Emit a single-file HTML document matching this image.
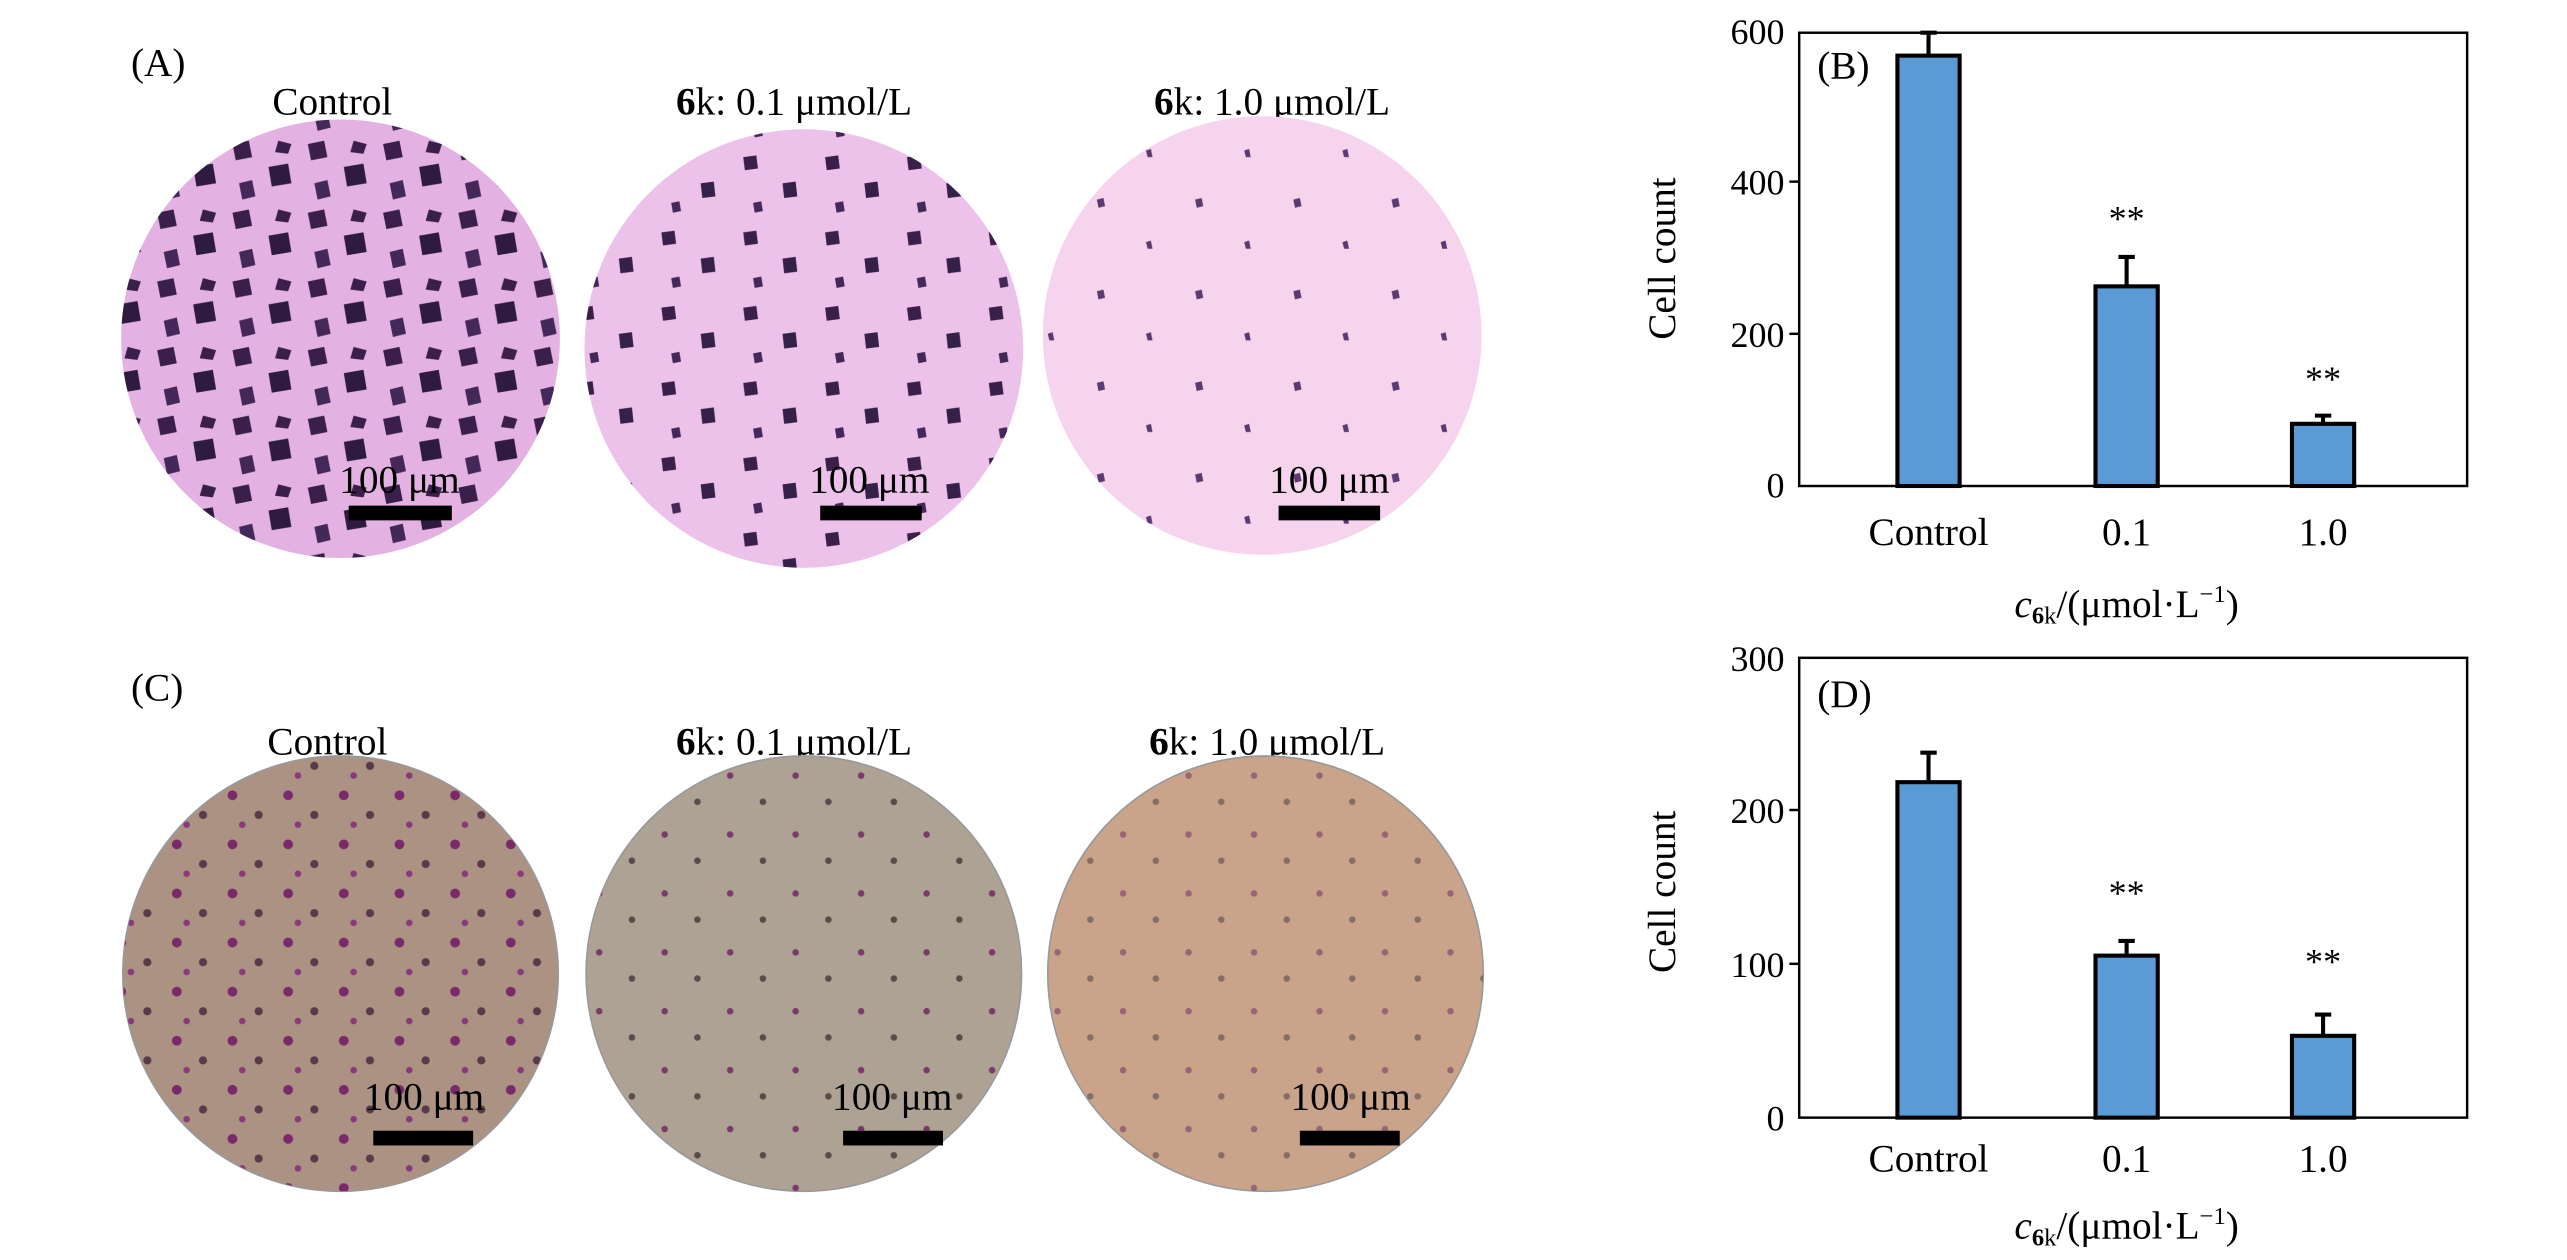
<!DOCTYPE html>
<html><head><meta charset="utf-8"><style>
html,body{margin:0;padding:0;background:#fff;}
svg{display:block;}
text{font-family:"Liberation Serif",serif;fill:#000;}
</style></head><body>
<svg width="2567" height="1260" viewBox="0 0 1568 770" preserveAspectRatio="none" xmlns="http://www.w3.org/2000/svg">
<defs>
<pattern id="pa" width="46" height="42" patternUnits="userSpaceOnUse">
<polygon points="4,4 14,2 16,12 6,14" fill="#3a1f4a"/>
<polygon points="26,18 38,16 40,28 28,30" fill="#2f1a40"/>
<polygon points="8,28 16,26 18,36 10,38" fill="#45285a"/>
<polygon points="32,2 40,4 38,10 30,9" fill="#3a1f4a"/>
</pattern>
<pattern id="pb" width="50" height="46" patternUnits="userSpaceOnUse">
<polygon points="4,4 12,3 13,11 5,12" fill="#3a1f4a"/>
<polygon points="28,20 36,19 37,28 29,29" fill="#35204a"/>
<polygon points="10,32 15,31 16,37 11,38" fill="#45285a"/>
</pattern>
<pattern id="pc" width="60" height="56" patternUnits="userSpaceOnUse">
<polygon points="10,10 14,9 15,14 11,15" fill="#5a3a70"/>
<polygon points="40,36 43,35 44,40 41,40" fill="#5a3a70"/>
</pattern>
<pattern id="pd" width="34" height="30" patternUnits="userSpaceOnUse">
<circle cx="6" cy="6" r="3" fill="#7a2a6a"/>
<circle cx="22" cy="18" r="2.5" fill="#5a3a4a"/>
<circle cx="12" cy="24" r="2" fill="#8a3a7a"/>
</pattern>
<pattern id="pe" width="40" height="36" patternUnits="userSpaceOnUse">
<circle cx="6" cy="6" r="2" fill="#7a3a6a"/>
<circle cx="26" cy="22" r="2" fill="#5a4a4a"/>
</pattern>
</defs>

<!-- A -->
<text x="80" y="46" font-size="24">(A)</text>
<text x="203" y="70" font-size="24" text-anchor="middle">Control</text>
<text x="485" y="70" font-size="24" text-anchor="middle"><tspan font-weight="bold">6</tspan>k: 0.1 μmol/L</text>
<text x="777" y="70" font-size="24" text-anchor="middle"><tspan font-weight="bold">6</tspan>k: 1.0 μmol/L</text>
<ellipse cx="208" cy="207" rx="134" ry="134" fill="#e4b2e2"/>
<ellipse cx="208" cy="207" rx="134" ry="134" fill="url(#pa)"/>
<ellipse cx="491" cy="213" rx="134" ry="134" fill="#ecc2ea"/>
<ellipse cx="491" cy="213" rx="134" ry="134" fill="url(#pb)"/>
<ellipse cx="771" cy="205" rx="134" ry="134" fill="#f6d4ee"/>
<ellipse cx="771" cy="205" rx="134" ry="134" fill="url(#pc)"/>
<g font-size="24" text-anchor="middle">
<text x="244" y="301">100 μm</text><text x="531" y="301">100 μm</text><text x="812" y="301">100 μm</text>
</g>
<rect x="213" y="309" width="63" height="9" fill="#000"/>
<rect x="501" y="309" width="62" height="9" fill="#000"/>
<rect x="781" y="309" width="62" height="9" fill="#000"/>

<!-- C -->
<text x="80" y="428" font-size="24">(C)</text>
<text x="200" y="461" font-size="24" text-anchor="middle">Control</text>
<text x="485" y="461" font-size="24" text-anchor="middle"><tspan font-weight="bold">6</tspan>k: 0.1 μmol/L</text>
<text x="774" y="461" font-size="24" text-anchor="middle"><tspan font-weight="bold">6</tspan>k: 1.0 μmol/L</text>
<ellipse cx="208" cy="595" rx="133" ry="133" fill="#ac9282" stroke="#999" stroke-width="1"/>
<ellipse cx="208" cy="595" rx="133" ry="133" fill="url(#pd)"/>
<ellipse cx="491" cy="595" rx="133" ry="133" fill="#aea294" stroke="#999" stroke-width="1"/>
<ellipse cx="491" cy="595" rx="133" ry="133" fill="url(#pe)"/>
<ellipse cx="773" cy="595" rx="133" ry="133" fill="#caa48a" stroke="#999" stroke-width="1"/>
<ellipse cx="773" cy="595" rx="133" ry="133" fill="url(#pe)" opacity="0.6"/>
<g font-size="24" text-anchor="middle">
<text x="259" y="678">100 μm</text><text x="545" y="678">100 μm</text><text x="825" y="678">100 μm</text>
</g>
<rect x="228" y="691" width="61" height="9" fill="#000"/>
<rect x="515" y="691" width="61" height="9" fill="#000"/>
<rect x="794" y="691" width="61" height="9" fill="#000"/>

<!-- B -->
<g>
<rect x="1099" y="20" width="408" height="277" fill="none" stroke="#000" stroke-width="1.5"/>
<g stroke="#000" stroke-width="1.5"><line x1="1093" y1="111" x2="1099" y2="111"/><line x1="1093" y1="204" x2="1099" y2="204"/></g>
<g font-size="22" text-anchor="end">
<text x="1090" y="27">600</text><text x="1090" y="119">400</text><text x="1090" y="212">200</text><text x="1090" y="304">0</text>
</g>
<text transform="translate(1023,158) rotate(-90)" font-size="24" text-anchor="middle">Cell count</text>
<text x="1110" y="48" font-size="24">(B)</text>
<g stroke="#000" stroke-width="2.5" fill="#5b9bd5">
<line x1="1178" y1="34" x2="1178" y2="20"/><line x1="1173" y1="20" x2="1183" y2="20"/>
<rect x="1159" y="34" width="38" height="263"/>
<line x1="1299" y1="175" x2="1299" y2="157"/><line x1="1294" y1="157" x2="1304" y2="157"/>
<rect x="1280" y="175" width="38" height="122"/>
<line x1="1419" y1="259" x2="1419" y2="254"/><line x1="1414" y1="254" x2="1424" y2="254"/>
<rect x="1400" y="259" width="38" height="38"/>
</g>
<g font-size="22" text-anchor="middle">
<text x="1299" y="141">**</text><text x="1419" y="239">**</text>
<text x="1178" y="333" font-size="24">Control</text><text x="1299" y="333" font-size="24">0.1</text><text x="1419" y="333" font-size="24">1.0</text>
</g>
<text x="1299" y="377" font-size="24" text-anchor="middle"><tspan font-style="italic">c</tspan><tspan font-size="15" font-weight="bold" dy="4">6</tspan><tspan font-size="15" dy="0">k</tspan><tspan dy="-4">/(μmol·L</tspan><tspan font-size="15" dy="-9">−1</tspan><tspan dy="9">)</tspan></text>
</g>

<!-- D -->
<g>
<rect x="1099" y="402" width="408" height="281" fill="none" stroke="#000" stroke-width="1.5"/>
<g stroke="#000" stroke-width="1.5"><line x1="1093" y1="495" x2="1099" y2="495"/><line x1="1093" y1="589" x2="1099" y2="589"/></g>
<g font-size="22" text-anchor="end">
<text x="1090" y="410">300</text><text x="1090" y="503">200</text><text x="1090" y="597">100</text><text x="1090" y="691">0</text>
</g>
<text transform="translate(1023,545) rotate(-90)" font-size="24" text-anchor="middle">Cell count</text>
<text x="1110" y="432" font-size="24">(D)</text>
<g stroke="#000" stroke-width="2.5" fill="#5b9bd5">
<line x1="1178" y1="478" x2="1178" y2="460"/><line x1="1173" y1="460" x2="1183" y2="460"/>
<rect x="1159" y="478" width="38" height="205"/>
<line x1="1299" y1="584" x2="1299" y2="575"/><line x1="1294" y1="575" x2="1304" y2="575"/>
<rect x="1280" y="584" width="38" height="99"/>
<line x1="1419" y1="633" x2="1419" y2="620"/><line x1="1414" y1="620" x2="1424" y2="620"/>
<rect x="1400" y="633" width="38" height="50"/>
</g>
<g font-size="22" text-anchor="middle">
<text x="1299" y="553">**</text><text x="1419" y="595">**</text>
<text x="1178" y="716" font-size="24">Control</text><text x="1299" y="716" font-size="24">0.1</text><text x="1419" y="716" font-size="24">1.0</text>
</g>
<text x="1299" y="757" font-size="24" text-anchor="middle"><tspan font-style="italic">c</tspan><tspan font-size="15" font-weight="bold" dy="4">6</tspan><tspan font-size="15" dy="0">k</tspan><tspan dy="-4">/(μmol·L</tspan><tspan font-size="15" dy="-9">−1</tspan><tspan dy="9">)</tspan></text>
</g>
</svg>
</body></html>
